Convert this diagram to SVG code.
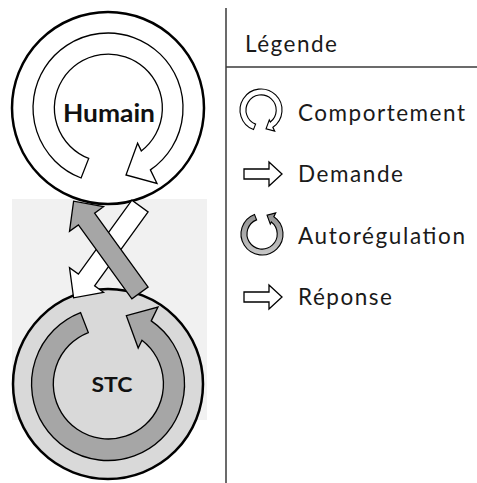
<svg xmlns="http://www.w3.org/2000/svg" xmlns:xlink="http://www.w3.org/1999/xlink" width="477" height="483" viewBox="0 0 477 483">
  <style>
    .circle { stroke: #000; stroke-width: 2.5; }
    .ring { stroke: #000; stroke-width: 1.3; stroke-linejoin: miter; }
    .ring-s { stroke: #000; stroke-width: 4; stroke-linejoin: miter; }
    .block { stroke: #000; stroke-width: 1.3; stroke-linejoin: miter; }
    .label { font-family: Lato, "Liberation Sans", sans-serif; font-size: 22.5px; fill: #1a1a1a; }
    .node-label { font-family: Lato, "Liberation Sans", sans-serif; font-weight: bold; fill: #111; text-anchor: middle; }
    .rule { stroke: #3a3a3a; stroke-width: 1.5; fill: none; }
  </style>
  <defs>
    <!-- circular arrow centred on 0,0: tail lower-left, runs clockwise, head lower-right -->
    <path id="ringArrow" d="M -26.9 70.0 A 75 75 0 1 1 42.4 61.9 L 49 75.5 L 18 67 L 29.6 35.2 L 33.3 42.9 A 54 54 0 1 0 -19.3 50.4 Z"/>
    <!-- right-pointing block arrow, origin at shaft start, centred vertically -->
    <path id="blockArrow" d="M 0 -5 L 25 -5 L 25 -12 L 38 0 L 25 12 L 25 5 L 0 5 Z"/>
    <linearGradient id="autoGrad" x1="0" y1="0" x2="0" y2="1">
      <stop offset="0" stop-color="#c8c8c8"/>
      <stop offset="1" stop-color="#8e8e8e"/>
    </linearGradient>
  </defs>

  <rect x="0" y="0" width="477" height="483" fill="#fff"/>
  <!-- shaded band behind the lower half -->
  <rect x="12" y="199" width="195" height="221" fill="#f1f1f1"/>

  <g id="humain">
    <circle class="circle" cx="108" cy="108" r="96" fill="#fff"/>
    <use xlink:href="#ringArrow" class="ring" fill="#fff" transform="translate(108,108)"/>
    <text class="node-label" x="109" y="122" font-size="25" textLength="92" lengthAdjust="spacingAndGlyphs">Humain</text>
  </g>

  <g id="stc">
    <circle class="circle" cx="108" cy="384" r="95" fill="#d9d9d9"/>
    <use xlink:href="#ringArrow" class="ring" fill="#a6a6a6" transform="translate(108,384) scale(1.02,-1.02)"/>
    <text class="node-label" x="112" y="392" font-size="21" textLength="41" lengthAdjust="spacingAndGlyphs">STC</text>
  </g>

  <g id="connectors">
    <!-- demande: Humain to STC -->
    <path class="block" fill="#fff" d="M 148.1 211.9 L 94.6 285.9 L 103.5 292.3 L 73.6 297.8 L 69.5 267.7 L 78.4 274.1 L 131.9 200.1 Z"/>
    <!-- réponse: STC to Humain -->
    <path class="block" fill="#a6a6a6" d="M 148.1 287.1 L 94.6 213.1 L 103.5 206.7 L 73.6 201.2 L 69.5 231.3 L 78.4 224.9 L 131.9 298.9 Z"/>
  </g>

  <g id="legend">
    <line class="rule" x1="226" y1="8" x2="226" y2="483"/>
    <line class="rule" x1="226" y1="67" x2="477" y2="67" stroke="#555"/>
    <text class="label" x="245" y="52" textLength="92">Légende</text>

    <g id="legend-comportement">
      <use xlink:href="#ringArrow" class="ring-s" fill="#fff" transform="translate(261,110) scale(0.28)"/>
      <text class="label" x="298" y="121" textLength="167">Comportement</text>
    </g>
    <g id="legend-demande">
      <use xlink:href="#blockArrow" class="block" fill="#fff" stroke-width="1.1" transform="translate(244,174)"/>
      <text class="label" x="298" y="182" textLength="105">Demande</text>
    </g>
    <g id="legend-autoregulation">
      <use xlink:href="#ringArrow" class="ring-s" fill="url(#autoGrad)" transform="translate(262,234) scale(0.28,-0.28)"/>
      <text class="label" x="298" y="244" textLength="167">Autorégulation</text>
    </g>
    <g id="legend-reponse">
      <use xlink:href="#blockArrow" class="block" fill="#fff" stroke-width="1.6" transform="translate(244,297)"/>
      <text class="label" x="298" y="305" textLength="94">Réponse</text>
    </g>
  </g>
</svg>
